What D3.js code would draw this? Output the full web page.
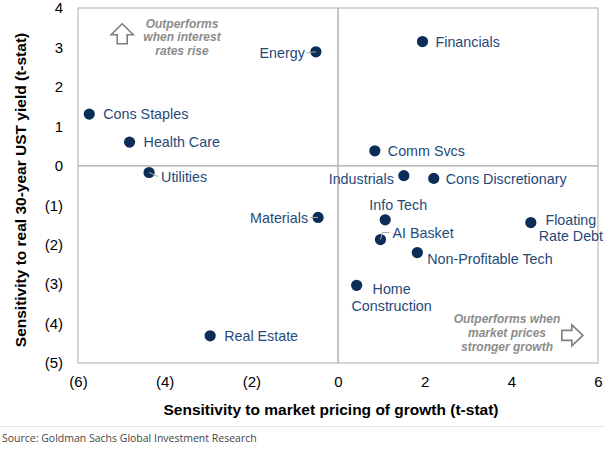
<!DOCTYPE html>
<html>
<head>
<meta charset="utf-8">
<script src="https://cdn.jsdelivr.net/npm/d3@7"></script>
<style>
	body { margin: 0; background: #fff; }
	svg { display: block; font-family: 'Liberation Sans', Arial, sans-serif; }
</style>
</head>
<body>
<svg id="chart" width="605" height="450"></svg>
<script>
// values
const sectors = ['Cons Staples', 'Health Care', 'Utilities', 'Energy', 'Financials', 'Comm Svcs', 'Industrials',
	'Cons Discretionary', 'Materials', 'Info Tech', 'AI Basket', 'Non-Profitable Tech', 'Floating\nRate Debt',
	'Home\nConstruction', 'Real Estate'];
const growthTstat = [-5.74, -4.81, -4.36, -0.51, 1.95, 0.85, 1.52, 2.21, -0.46, 1.09, 0.98, 1.83, 4.45, 0.43, -2.95];
const rateTstat = [1.31, 0.6, -0.17, 2.89, 3.15, 0.38, -0.25, -0.32, -1.31, -1.37, -1.87, -2.2, -1.44, -3.03, -4.31];
const xTicks = [-6, -4, -2, 0, 2, 4, 6];
const yTicks = [4, 3, 2, 1, 0, -1, -2, -3, -4, -5];

// label placement: [dx, dy, anchor, leader]
const labelPos = [
	[14, 0, 'start', false], [14, 0, 'start', false], [12, 4, 'start', true], [-11, 1, 'end', true],
	[13, 0, 'start', false], [13, 0, 'start', false], [-10, 3, 'end', false], [12, 0, 'start', false],
	[-10, 0, 'end', true], [13, -15, 'middle', false], [12, -7, 'start', true], [10, 6, 'start', false],
	[40, -3, 'middle', false], [35, 4, 'middle', false], [14, 0, 'start', false]
];

const fmt = (v) => (v < 0 ? '(' + Math.abs(v) + ')' : String(v));

const svg = d3.select('#chart');
const x = d3.scaleLinear().domain([-6, 6]).range([78, 598]);
const y = d3.scaleLinear().domain([-5, 4]).range([363, 8]);

const data = sectors.map((name, i) => ({ name: name, gx: growthTstat[i], ry: rateTstat[i], pos: labelPos[i] }));

// frame and zero lines
svg.append('rect')
	.attr('x', x(-6)).attr('y', y(4))
	.attr('width', x(6) - x(-6)).attr('height', y(-5) - y(4))
	.attr('fill', 'none').attr('stroke', '#bfbfbf').attr('stroke-width', 1.3);
svg.append('line')
	.attr('x1', x(0)).attr('x2', x(0)).attr('y1', y(4)).attr('y2', y(-5))
	.attr('stroke', '#a6a6a6').attr('stroke-width', 1.3);
svg.append('line')
	.attr('x1', x(-6)).attr('x2', x(6)).attr('y1', y(0)).attr('y2', y(0))
	.attr('stroke', '#a6a6a6').attr('stroke-width', 1.3);

// axes
const xAxis = svg.append('g')
	.attr('transform', 'translate(0,' + y(-5) + ')')
	.call(d3.axisBottom(x).tickValues(xTicks).tickFormat(fmt).tickSize(0).tickPadding(13));
const yAxis = svg.append('g')
	.attr('transform', 'translate(' + (x(-6) - 15) + ',0)')
	.call(d3.axisLeft(y).tickValues(yTicks).tickFormat(fmt).tickSize(0).tickPadding(0));
[xAxis, yAxis].forEach((ax) => {
	ax.select('.domain').remove();
	ax.selectAll('text')
		.style('font-family', "'Liberation Sans', Arial, sans-serif")
		.style('font-size', '15px')
		.attr('fill', '#000');
});

svg.append('text')
	.attr('x', 331).attr('y', 415)
	.attr('text-anchor', 'middle')
	.style('font-size', '15.5px').style('font-weight', 'bold')
	.text('Sensitivity to market pricing of growth (t-stat)');
svg.append('text')
	.attr('transform', 'translate(26,190) rotate(-90)')
	.attr('text-anchor', 'middle')
	.style('font-size', '15.5px').style('font-weight', 'bold')
	.text('Sensitivity to real 30-year UST yield (t-stat)');

// source
svg.append('line')
	.attr('x1', 0).attr('x2', 605).attr('y1', 426.5).attr('y2', 426.5)
	.attr('stroke', '#e6e6e6').attr('stroke-width', 1);
svg.append('text')
	.attr('x', 2).attr('y', 442)
	.style('font-family', "'Open Sans', sans-serif").style('font-size', '10.5px')
	.attr('fill', '#444')
	.text('Source: Goldman Sachs Global Investment Research');

// annotations
const noteStyle = (sel) => sel
	.attr('text-anchor', 'middle').attr('fill', '#8c8c8c')
	.style('font-size', '12px').style('font-weight', 'bold').style('font-style', 'italic');

const upNote = svg.append('text').attr('x', x(-3.6)).attr('y', y(3.6)).call(noteStyle);
['Outperforms', 'when interest', 'rates rise'].forEach((t, i) => {
	upNote.append('tspan').attr('x', x(-3.6)).attr('dy', i === 0 ? 4 : 13.5).text(t);
});
const rightNote = svg.append('text').attr('x', x(3.9)).attr('y', y(-3.88)).call(noteStyle);
['Outperforms when', 'market prices', 'stronger growth'].forEach((t, i) => {
	rightNote.append('tspan').attr('x', x(3.9)).attr('dy', i === 0 ? 4 : 14).text(t);
});

// block arrows
const ux = x(-4.98), uy = y(3.6);
svg.append('path')
	.attr('d', `M${ux},${uy} L${ux + 11},${uy + 11} L${ux + 5},${uy + 11} L${ux + 5},${uy + 20} L${ux - 5},${uy + 20} L${ux - 5},${uy + 11} L${ux - 11},${uy + 11} Z`)
	.attr('fill', '#fff').attr('stroke', '#7f7f7f').attr('stroke-width', 1.6);
const rx = x(5.65), ry = y(-4.3);
svg.append('path')
	.attr('d', `M${rx},${ry} L${rx - 11},${ry - 10.5} L${rx - 11},${ry - 5} L${rx - 21},${ry - 5} L${rx - 21},${ry + 5} L${rx - 11},${ry + 5} L${rx - 11},${ry + 10.5} Z`)
	.attr('fill', '#fff').attr('stroke', '#7f7f7f').attr('stroke-width', 1.6);

// dots
const pts = svg.append('g').selectAll('g').data(data).enter().append('g')
	.attr('transform', (d) => 'translate(' + x(d.gx) + ',' + y(d.ry) + ')');

pts.append('circle')
	.attr('r', 5.6)
	.attr('fill', '#0c2d57');

// leader lines
pts.filter((d) => d.pos[3])
	.append('path')
	.attr('d', (d) => {
		const dx = d.pos[0], dy = d.pos[1];
		if (d.pos[2] === 'start' && dy < -3) return `M0,0 L2,${dy} L${dx - 3},${dy}`;
		return `M0,0 L${dx + (dx > 0 ? -3 : 2)},${dy}`;
	})
	.attr('fill', 'none').attr('stroke', '#a6a6a6').attr('stroke-width', 1);

// labels
pts.each(function (d) {
	const lines = d.name.split('\n');
	const t = d3.select(this).append('text')
		.attr('text-anchor', d.pos[2])
		.attr('fill', '#1f4a7a')
		.style('font-size', '14.3px');
	lines.forEach((line, i) => {
		t.append('tspan')
			.attr('x', d.pos[0])
			.attr('y', d.pos[1] + i * 16.5)
			.attr('dy', '0.36em')
			.text(line);
	});
});
</script>
</body>
</html>
